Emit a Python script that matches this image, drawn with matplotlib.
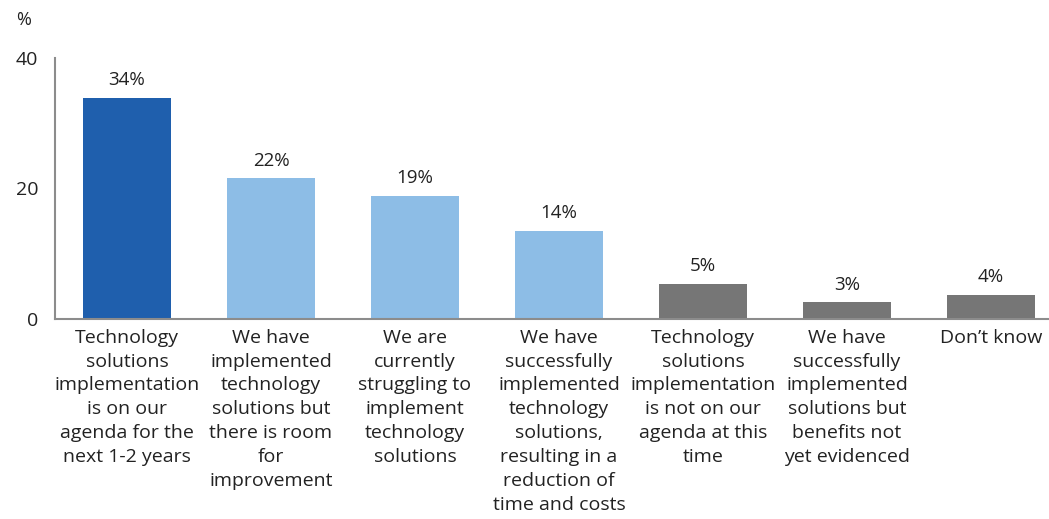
import matplotlib
matplotlib.use("Agg")
import matplotlib.pyplot as plt

categories = [
    "Technology\nsolutions\nimplementation\nis on our\nagenda for the\nnext 1-2 years",
    "We have\nimplemented\ntechnology\nsolutions but\nthere is room\nfor\nimprovement",
    "We are\ncurrently\nstruggling to\nimplement\ntechnology\nsolutions",
    "We have\nsuccessfully\nimplemented\ntechnology\nsolutions,\nresulting in a\nreduction of\ntime and costs",
    "Technology\nsolutions\nimplementation\nis not on our\nagenda at this\ntime",
    "We have\nsuccessfully\nimplemented\nsolutions but\nbenefits not\nyet evidenced",
    "Don\u2019t know",
]
values = [33.9, 21.6, 18.9, 13.5, 5.4, 2.6, 3.7]
value_labels = ["34%", "22%", "19%", "14%", "5%", "3%", "4%"]
colors = ["#1F5FAD", "#8DBDE6", "#8DBDE6", "#8DBDE6", "#767676", "#767676", "#767676"]
yticks = [0, 20, 40]

plt.rcParams['font.family'] = ['Open Sans', 'DejaVu Sans']
fig = plt.figure(figsize=(10.49, 5.19), dpi=100)
ax = fig.add_axes([55/1049, 200/519, 1008/1049, 261/519])

x = list(range(len(categories)))
ax.bar(x, values, width=0.61, color=colors)
for xi, v, lab in zip(x, values, value_labels):
    ax.text(xi, v + 1.3, lab, ha="center", va="bottom", fontsize=13.5, color="#222222")

ax.set_xlim(-0.5, len(categories) - 0.5)
ax.set_ylim(0, 40)
ax.set_yticks(yticks)
ax.set_yticklabels([str(t) for t in yticks], fontsize=14, color="#222222")
ax.set_xticks(x)
ax.set_xticklabels(categories, fontsize=14, color="#222222", linespacing=1.42)
ax.tick_params(axis="y", length=0, pad=12)
ax.tick_params(axis="x", length=0, pad=7)
for s in ["top", "right"]:
    ax.spines[s].set_visible(False)
for s in ["left", "bottom"]:
    ax.spines[s].set_color("#8C8C8C")
    ax.spines[s].set_linewidth(1.5)

fig.text(16/1049, 1 - 20/519, "%", fontsize=13, color="#222222", va="center", ha="left")

fig.savefig("out.png", dpi=100)
